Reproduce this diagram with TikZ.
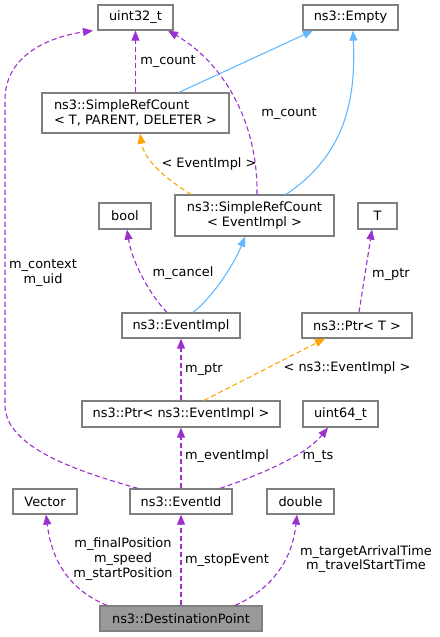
\documentclass[tikz,border=0pt]{standalone}
\usepackage{fontspec}
\setmainfont{DejaVu Sans}
\usetikzlibrary{arrows.meta}

\definecolor{memberclr}{HTML}{9A32CD}
\definecolor{inheritclr}{HTML}{63B8FF}
\definecolor{templclr}{HTML}{FFA500}
\definecolor{boxclr}{HTML}{7F7F7F}
\definecolor{focusclr}{HTML}{999999}

\tikzset{
  cls/.style={draw=boxclr, line width=1.2pt, rectangle, fill=white, minimum height=25pt, inner sep=2pt},
  member/.style={draw=memberclr, line width=1.1pt, dash pattern=on 5pt off 3pt, -{Triangle[length=10pt,width=8pt,fill=memberclr]}},
  inherit/.style={draw=inheritclr, line width=1.1pt, -{Triangle[length=10pt,width=8pt,fill=inheritclr]}},
  templ/.style={draw=templclr, line width=1.1pt, dash pattern=on 5pt off 3pt, -{Triangle[length=10pt,width=8pt,fill=templclr]}},
  lbl/.style={align=center, inner sep=0pt}
}

\begin{document}
\begin{tikzpicture}[x=1pt, y=-1pt, font=\fontsize{12.9}{14.7}\selectfont]
            \useasboundingbox (0,0) rectangle (439,637);
            % classes
            \node[cls, minimum width=75pt] (uint32) at (135.5,17.5) {uint32\_t};
            \node[cls, minimum width=95pt] (empty) at (350.5,17.5) {ns3::Empty};
            \node[cls, minimum width=187pt, minimum height=40pt, align=left] (srcT) at (135.5,113) {ns3::SimpleRefCount\\< T, PARENT, DELETER >};
            \node[cls, minimum width=159pt, minimum height=41pt, align=center] (srcE) at (254.5,215.5) {ns3::SimpleRefCount\\< EventImpl >};
            \node[cls, minimum width=52pt, minimum height=26pt] (bool) at (125,216) {bool};
            \node[cls, minimum width=39pt, minimum height=26pt] (T) at (377.5,216) {T};
            \node[cls, minimum width=118pt] (evImpl) at (181,325.5) {ns3::EventImpl};
            \node[cls, minimum width=110pt] (ptrT) at (357,325.5) {ns3::Ptr< T >};
            \node[cls, minimum width=198pt, minimum height=26pt] (ptrE) at (181,414) {ns3::Ptr< ns3::EventImpl >};
            \node[cls, minimum width=75pt, minimum height=26pt] (uint64) at (340.5,414) {uint64\_t};
            \node[cls, minimum width=64pt] (vector) at (45,501.5) {Vector};
            \node[cls, minimum width=102pt] (evId) at (181,501.5) {ns3::EventId};
            \node[cls, minimum width=67pt] (dbl) at (300.5,501.5) {double};
            \node[cls, minimum width=162pt, fill=focusclr] (dest) at (181,618.5) {ns3::DestinationPoint};

            % SimpleRefCount part
            \draw[member] (srcT.north) -- (uint32.south);
            \draw[inherit] ([xshift=43.5pt]srcT.north) -- ([xshift=-37.5pt]empty.south);
            \draw[inherit] ([xshift=31.5pt]srcE.north) .. controls (345,155) and (356,100) .. ([xshift=2.5pt]empty.south);
            \draw[member] ([xshift=2.5pt]srcE.north) .. controls (258,120) and (222,62) .. ([xshift=32.5pt]uint32.south);
            \draw[templ] ([xshift=-63.5pt]srcE.north) .. controls (160,175) and (144,158) .. ([xshift=4.5pt]srcT.south);
            \node[lbl] (lCountA) at (168,61) {m\_count};
            \node[lbl] (lCountB) at (289,113) {m\_count};
            \node[lbl] (lEvImpl) at (209,164) {< EventImpl >};

            % EventImpl and Ptr
            \draw[member] ([xshift=-14pt]evImpl.north) .. controls (150,295) and (132,262) .. ([xshift=2pt]bool.south);
            \draw[inherit] ([xshift=12pt]evImpl.north) .. controls (215,295) and (235,262) .. ([xshift=-9.5pt]srcE.south);
            \draw[member] ([xshift=2pt]ptrT.north) -- ([xshift=-5.5pt]T.south);
            \draw[member] (ptrE.north) -- (evImpl.south);
            \draw[templ] ([xshift=23pt]ptrE.north) -- ([xshift=-32pt]ptrT.south);
            \node[lbl] (lCancel) at (183,273) {m\_cancel};
            \node[lbl] (lPtrA) at (391,274) {m\_ptr};
            \node[lbl] (lPtrB) at (204,369) {m\_ptr};
            \node[lbl] (lNsEvImpl) at (347,368) {< ns3::EventImpl >};

            % EventId
            \draw[member] ([xshift=-43pt]evId.north) .. controls (80,472) and (5,448) .. (5,405) -- (5,100) .. controls (5,52) and (55,36) .. ([xshift=-42.5pt]uint32.south);
            \draw[member] (evId.north) -- (ptrE.south);
            \draw[member] ([xshift=39pt]evId.north) .. controls (262,474) and (306,455) .. ([xshift=-12.5pt]uint64.south);
            \node[lbl] (lContext) at (43,273) {m\_context\\m\_uid};
            \node[lbl] (lEvImplB) at (227,456) {m\_eventImpl};
            \node[lbl] (lTs) at (318,456) {m\_ts};

            % DestinationPoint
            \draw[member] ([xshift=-74pt]dest.north) .. controls (70,590) and (52,562) .. ([xshift=1pt]vector.south);
            \draw[member] (dest.north) -- (evId.south);
            \draw[member] ([xshift=54pt]dest.north) .. controls (270,590) and (292,562) .. ([xshift=-3.5pt]dbl.south);
            \node[lbl] (lPos) at (123,559) {m\_finalPosition\\m\_speed\\m\_startPosition};
            \node[lbl] (lStop) at (227,560) {m\_stopEvent};
            \node[lbl] (lTime) at (366,559) {m\_targetArrivalTime\\m\_travelStartTime};
        \end{tikzpicture}
\end{document}
